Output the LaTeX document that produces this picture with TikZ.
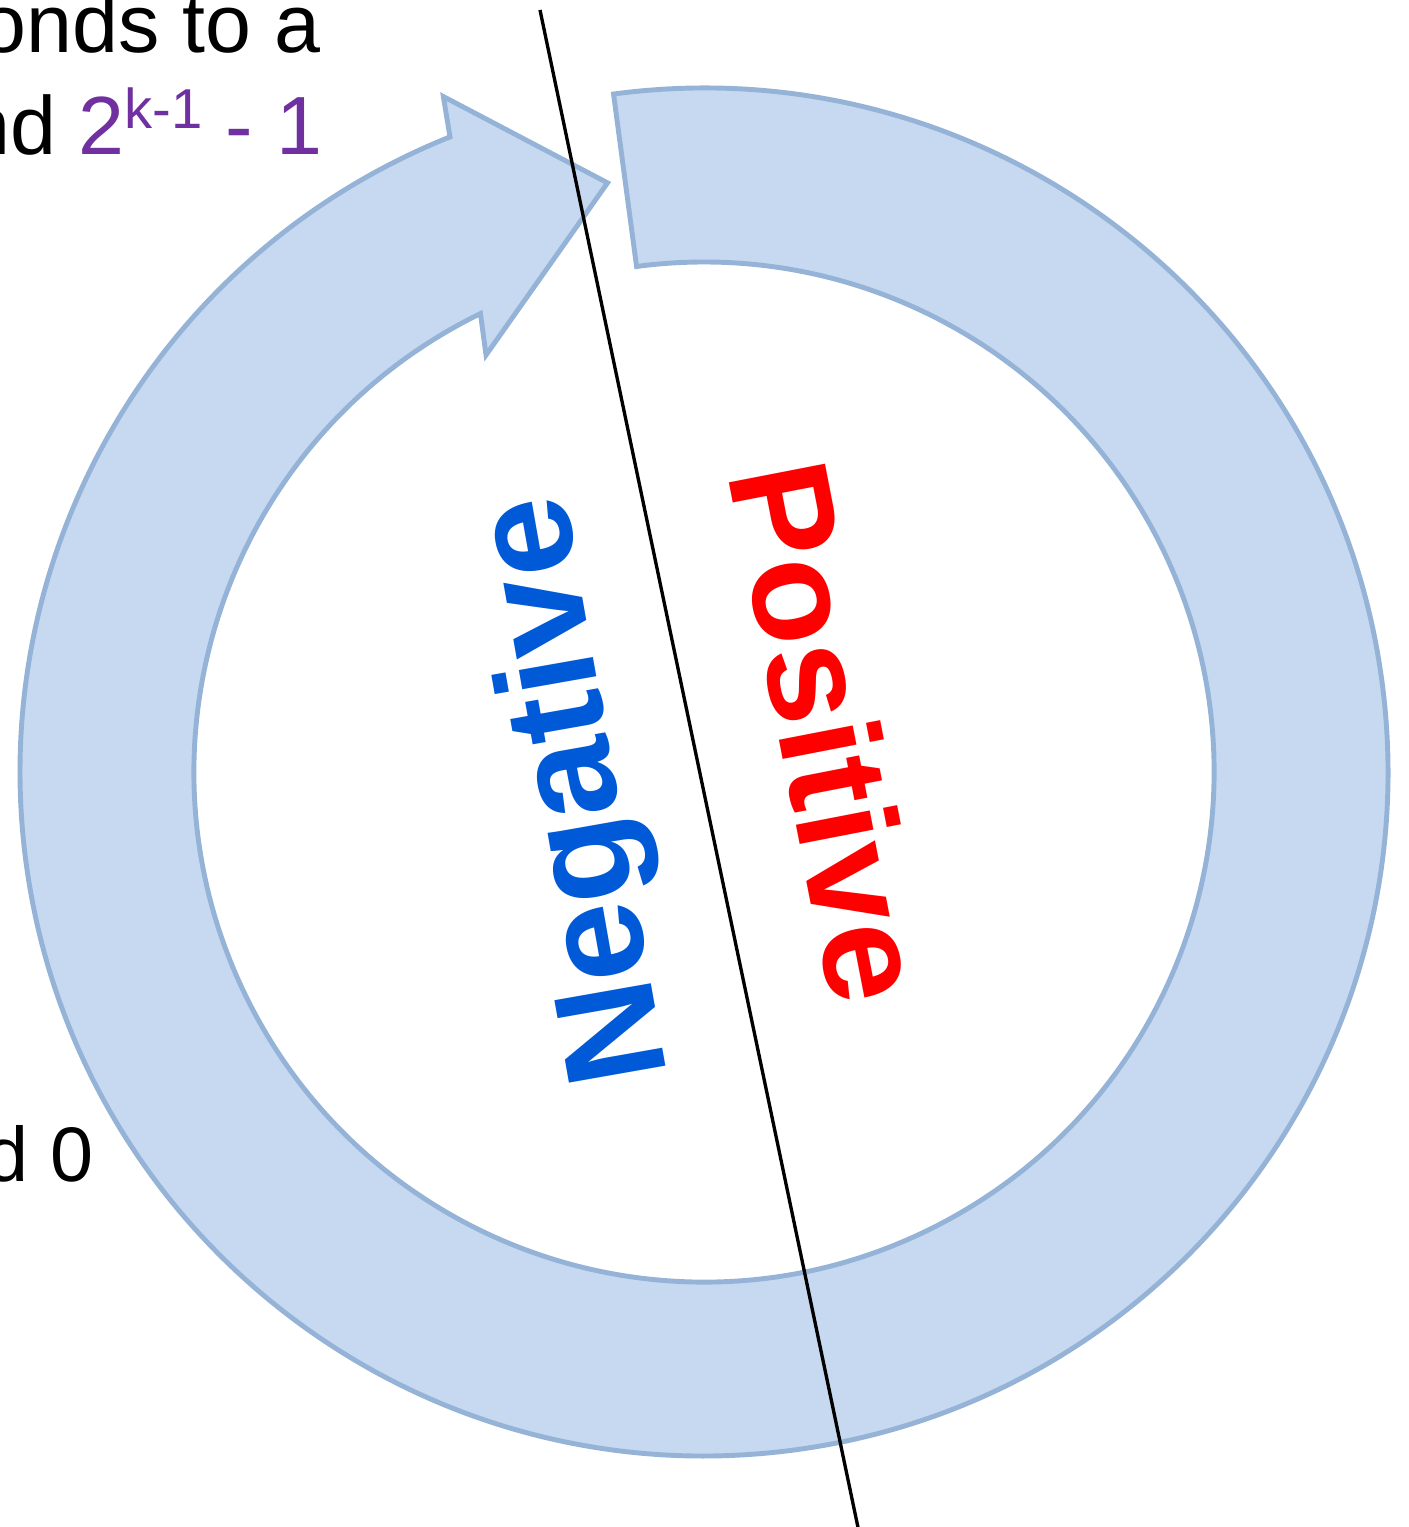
\documentclass[tikz,border=0pt]{standalone}
\usepackage{fontspec}
\setmainfont{Liberation Sans}
\definecolor{ringfill}{HTML}{C6D9F1}
\definecolor{ringdraw}{HTML}{95B3D7}
\definecolor{negblau}{HTML}{0059D6}
\definecolor{kpurple}{HTML}{7030A0}
\begin{document}
\begin{tikzpicture}[
    ring/.style={fill=ringfill, draw=ringdraw, line width=1.4pt, line join=miter},
    divider/.style={draw=black, line width=0.95pt},
    word/.style={font=\fontsize{40.5}{40.5}\selectfont\bfseries, inner sep=0pt},
    note/.style={font=\fontsize{23.5}{23.5}\selectfont, inner sep=0pt, anchor=base east}
  ]
  \useasboundingbox (0,0) rectangle (14.08,15.27);
  \clip (0,0) rectangle (14.08,15.27);

  % circular arrow
  \begin{scope}[shift={(7.04,7.55)}]
    \draw[ring] (97.6:6.84) arc[start angle=97.6, end angle=-248.2, radius=6.84]
      -- (111.1:7.24) -- (99.3:5.97) -- (117.6:4.705) -- (116:5.10)
      arc[start angle=-244, end angle=97.6, radius=5.10] -- cycle;
  \end{scope}

  \coordinate (cut top) at (5.40,15.17);
  \coordinate (cut bot) at (8.60,-0.10);
  \draw[divider] (cut top) -- (cut bot);

  \node[word, text=negblau, rotate=100] (neg) at (5.80,7.37) {Negative};
  \node[word, text=red, rotate=-79] (pos) at (8.30,7.95) {Positive};

  % Text cut off at the left edge
  \node[note] (line1) at (3.21,14.74) {onds to a};
  \node[note] (line2) at (3.23,13.72) {nd \textcolor{kpurple}{2\raisebox{7.4pt}{\fontsize{16}{16}\selectfont k-1} - 1}};
  \node[note, font=\fontsize{22}{22}\selectfont] (line3) at (0.94,3.45) {d 0};
\end{tikzpicture}
\end{document}
